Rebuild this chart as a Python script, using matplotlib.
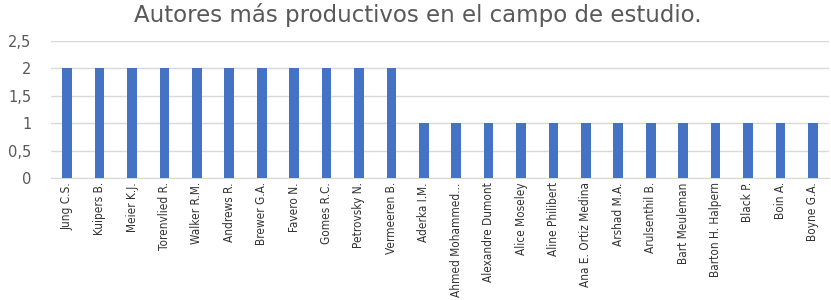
import matplotlib.pyplot as plt
from matplotlib.ticker import FuncFormatter

autores = ['Jung C.S.', 'Kuipers B.', 'Meier K.J.', 'Torenvlied R.', 'Walker R.M.',
           'Andrews R.', 'Brewer G.A.', 'Favero N.', 'Gomes R.C.', 'Petrovsky N.',
           'Vermeeren B.', 'Aderka I.M.', 'Ahmed Mohammed...', 'Alexandre Dumont',
           'Alice Moseley', 'Aline Philibert', 'Ana E. Ortiz Medina', 'Arshad M.A.',
           'Arulsenthil B.', 'Bart Meuleman', 'Barton H. Halpern', 'Black P.',
           'Boin A.', 'Boyne G.A.']
articulos = [2, 2, 2, 2, 2, 2, 2, 2, 2, 2, 2,
             1, 1, 1, 1, 1, 1, 1, 1, 1, 1, 1, 1, 1]

fig = plt.figure(figsize=(8.31, 3.0), dpi=100)
ax = fig.add_axes([51 / 831, 1 - 178 / 300, 778 / 831, 137 / 300])

x = range(len(autores))
ax.bar(x, articulos, width=0.3, color='#4472C4', zorder=3)

ax.set_xlim(-0.5, len(autores) - 0.5)
ax.set_ylim(0, 2.5)
ax.set_yticks([0, 0.5, 1, 1.5, 2, 2.5])
ax.yaxis.set_major_formatter(FuncFormatter(lambda v, p: ('%g' % v).replace('.', ',')))
ax.grid(axis='y', color='#D9D9D9', linewidth=1, zorder=0)

for s in ['top', 'right', 'left']:
    ax.spines[s].set_visible(False)
ax.spines['bottom'].set_color('#D9D9D9')

ax.set_xticks(list(x))
ax.set_xticklabels(autores, rotation=90, family='DejaVu Sans', fontstretch='condensed',
                   fontsize=8.5, color='#333333')
ax.tick_params(axis='both', length=0)
ax.tick_params(axis='y', labelsize=10.5, labelcolor='#595959', pad=14)
ax.tick_params(axis='x', pad=3)

fig.text(418 / 831, 0.99, 'Autores más productivos en el campo de estudio.',
         ha='center', va='top', fontsize=16.5, color='#595959', family='DejaVu Sans',
         fontstretch='normal')

fig.savefig('out.png', dpi=100)
